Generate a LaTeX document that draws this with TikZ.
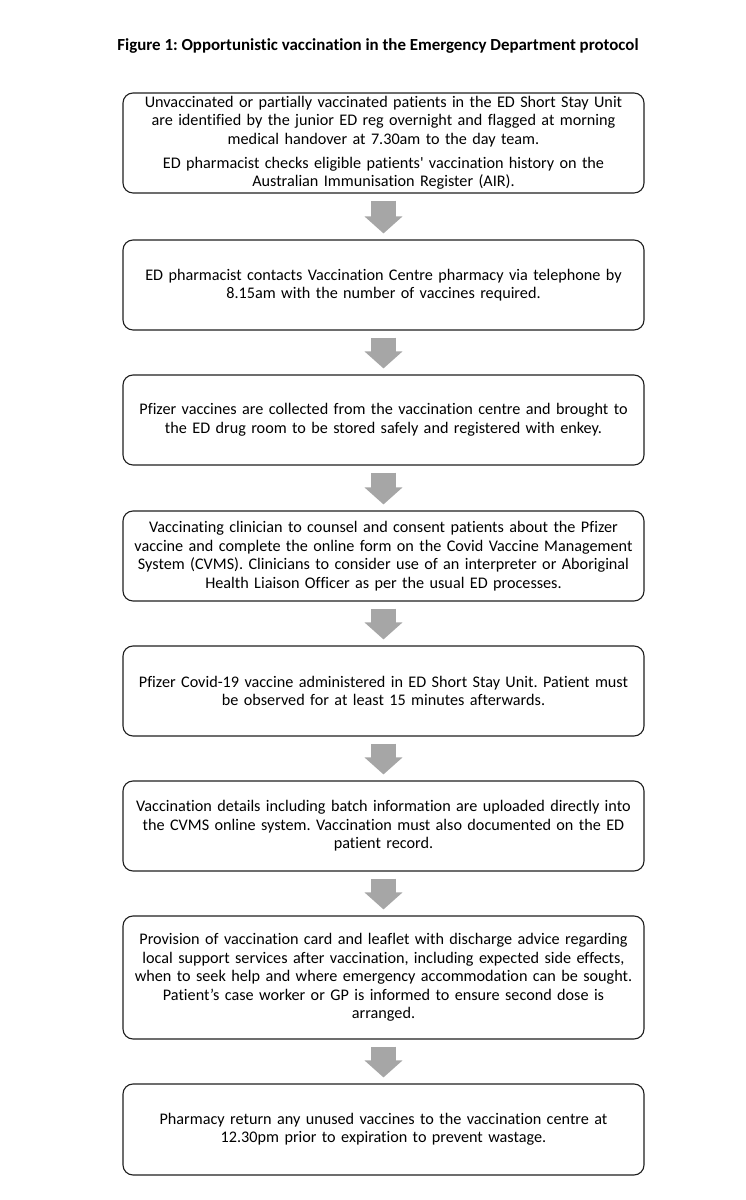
\documentclass[tikz,border=0pt]{standalone}
\usepackage{fontspec}
\setmainfont{Carlito}[Ligatures={TeX,NoCommon}]
\usetikzlibrary{arrows.meta}
\definecolor{arrowgrey}{RGB}{166,166,166}
\definecolor{boxline}{RGB}{30,30,30}
\frenchspacing

\tikzset{
	stepbox/.style={draw=boxline, line width=1.1pt, rounded corners=10pt,
		minimum width=521pt, text width=512pt, inner sep=0pt, align=center,
		font=\fontsize{16.2}{18.5}\selectfont},
	flowarrow/.style={draw=arrowgrey, line width=25pt,
		-{Triangle[width=37pt,length=17pt]}}
}

\begin{document}
\begin{tikzpicture}[x=1pt,y=1pt]
	\useasboundingbox (0,0) rectangle (746,1200);
	\node[font=\fontsize{16.9}{19}\selectfont\bfseries] (title) at (378,1154)
		{Figure 1: Opportunistic vaccination in the Emergency Department protocol};
	% protocol steps
	\node[stepbox, minimum height=100pt] (identify) at (383.5,1057) {Unvaccinated or partially vaccinated patients in the ED Short Stay Unit\\ are identified by the junior ED reg overnight and flagged at morning\\ medical handover at 7.30am to the day team.\\[5.5pt] ED pharmacist checks eligible patients\textquotesingle{} vaccination history on the\\ Australian Immunisation Register (AIR).};
	\node[stepbox, minimum height=90pt] (contact) at (383.5,915) {ED pharmacist contacts Vaccination Centre pharmacy via telephone by\\ 8.15am with the number of vaccines required.};
	\node[stepbox, minimum height=90pt] (collect) at (383.5,780) {Pfizer vaccines are collected from the vaccination centre and brought to\\ the ED drug room to be stored safely and registered with enkey.};
	\node[stepbox, minimum height=90pt] (consent) at (383.5,644) {Vaccinating clinician to counsel and consent patients about the Pfizer\\ vaccine and complete the online form on the Covid Vaccine Management\\ System (CVMS). Clinicians to consider use of an interpreter or Aboriginal\\ Health Liaison Officer as per the usual ED processes.};
	\node[stepbox, minimum height=90pt] (administer) at (383.5,509) {Pfizer Covid-19 vaccine administered in ED Short Stay Unit. Patient must\\ be observed for at least 15 minutes afterwards.};
	\node[stepbox, minimum height=90pt] (upload) at (383.5,374) {Vaccination details including batch information are uploaded directly into\\ the CVMS online system. Vaccination must also documented on the ED\\ patient record.};
	\node[stepbox, minimum height=123pt] (discharge) at (383.5,222.5) {Provision of vaccination card and leaflet with discharge advice regarding\\ local support services after vaccination, including expected side effects,\\ when to seek help and where emergency accommodation can be sought.\\ Patient’s case worker or GP is informed to ensure second dose is\\ arranged.};
	\node[stepbox, minimum height=91pt] (return) at (383.5,70.5) {Pharmacy return any unused vaccines to the vaccination centre at\\ 12.30pm prior to expiration to prevent wastage.};
	% grey block arrows
	\draw[flowarrow] ([yshift=-7pt]identify.south) -- ([yshift=6pt]contact.north);
	\draw[flowarrow] ([yshift=-7pt]contact.south) -- ([yshift=6pt]collect.north);
	\draw[flowarrow] ([yshift=-7pt]collect.south) -- ([yshift=6pt]consent.north);
	\draw[flowarrow] ([yshift=-7pt]consent.south) -- ([yshift=6pt]administer.north);
	\draw[flowarrow] ([yshift=-7pt]administer.south) -- ([yshift=6pt]upload.north);
	\draw[flowarrow] ([yshift=-7pt]upload.south) -- ([yshift=6pt]discharge.north);
	\draw[flowarrow] ([yshift=-7pt]discharge.south) -- ([yshift=6pt]return.north);
\end{tikzpicture}
\end{document}
